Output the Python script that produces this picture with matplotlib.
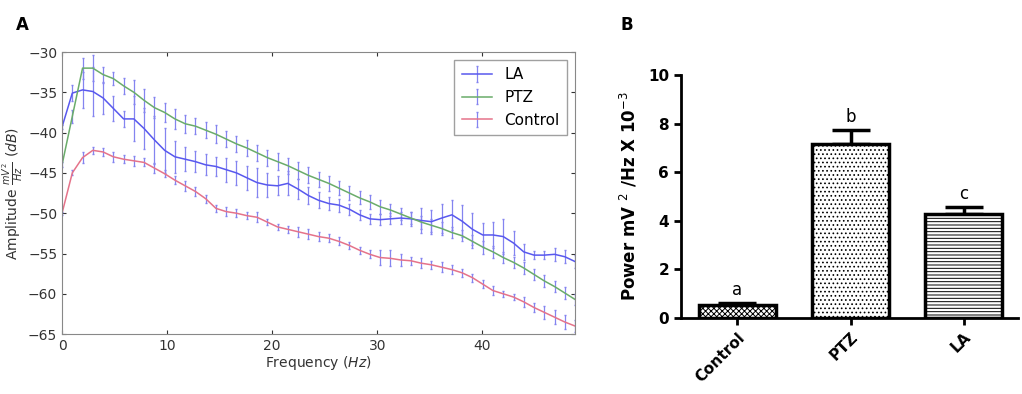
import numpy as np
import matplotlib
matplotlib.use("Agg")
import matplotlib.pyplot as plt

# ---- panel A data: spectra (dB), index k -> k * 1000/1024 Hz
freq_step = 1000 / 1024
la = [-39.3, -35.1, -34.7, -34.9, -35.7, -37.0, -38.3, -38.3, -39.5, -40.9,
      -42.2, -43.0, -43.3, -43.6, -44.0, -44.2, -44.6, -45.0, -45.6, -46.2,
      -46.5, -46.6, -46.3, -47.0, -47.8, -48.4, -48.8, -49.0, -49.5, -50.2,
      -50.7, -50.8, -50.7, -50.6, -50.7, -50.9, -51.05, -50.6, -50.2, -51.0,
      -52.0, -52.7, -52.7, -52.9, -53.7, -54.8, -55.2, -55.2, -55.1, -55.4,
      -56.0]
la_err = [0.3, 1.0, 2.2, 3.0, 2.0, 1.5, 1.0, 2.8, 2.5, 3.0,
          2.8, 2.0, 1.5, 1.3, 1.3, 1.2, 1.5, 1.5, 1.5, 1.8,
          1.5, 1.2, 1.5, 1.2, 1.0, 1.0, 0.8, 0.8, 0.7, 0.6,
          0.6, 0.7, 0.7, 0.8, 0.9, 1.5, 1.5, 1.8, 1.9, 2.0,
          2.0, 1.5, 1.6, 2.2, 1.5, 1.0, 0.5, 0.5, 0.8, 0.8,
          0.8]
ptz = [-44.0, -38.0, -32.0, -32.0, -32.8, -33.3, -34.2, -35.0, -36.0, -36.9,
       -37.5, -38.3, -38.9, -39.2, -39.7, -40.2, -40.8, -41.4, -41.9, -42.5,
       -43.1, -43.6, -44.1, -44.7, -45.3, -45.8, -46.3, -46.9, -47.5, -48.1,
       -48.6, -49.2, -49.6, -50.1, -50.6, -51.1, -51.5, -51.9, -52.4, -52.8,
       -53.5, -54.2, -54.8, -55.5, -56.1, -56.8, -57.6, -58.4, -59.1, -59.9,
       -60.7]
ptz_err = [0.3, 0.8, 1.3, 1.6, 1.0, 0.8, 1.0, 1.5, 1.4, 1.3,
           1.2, 1.2, 1.1, 1.0, 1.0, 1.1, 1.0, 1.0, 1.0, 1.0,
           1.0, 1.1, 1.0, 1.0, 1.0, 0.9, 0.9, 0.9, 0.9, 0.8,
           0.9, 0.9, 0.8, 0.8, 0.8, 0.8, 0.8, 0.8, 0.7, 0.7,
           0.8, 0.8, 0.7, 0.7, 0.7, 0.7, 0.7, 0.7, 0.7, 0.7,
           0.7]
control = [-50.0, -45.0, -43.1, -42.2, -42.4, -43.0, -43.3, -43.5, -43.7, -44.4,
           -45.1, -45.9, -46.6, -47.3, -48.2, -49.4, -49.8, -50.0, -50.3, -50.5,
           -51.1, -51.7, -52.0, -52.3, -52.6, -52.9, -53.1, -53.5, -54.0, -54.6,
           -55.1, -55.5, -55.6, -55.8, -55.9, -56.2, -56.4, -56.7, -57.0, -57.4,
           -58.0, -58.8, -59.6, -60.0, -60.4, -61.0, -61.7, -62.3, -62.9, -63.5,
           -64.0]
control_err = [0.2, 0.3, 0.7, 0.4, 0.5, 0.6, 0.5, 0.6, 0.5, 0.6,
               0.4, 0.5, 0.6, 0.6, 0.5, 0.4, 0.6, 0.5, 0.4, 0.6,
               0.4, 0.4, 0.4, 0.6, 0.6, 0.6, 0.5, 0.5, 0.4, 0.4,
               0.5, 0.9, 1.0, 0.7, 0.5, 0.6, 0.5, 0.6, 0.6, 0.5,
               0.5, 0.5, 0.6, 0.4, 0.4, 0.6, 0.6, 0.8, 0.9, 0.9,
               0.8]

# ---- panel B data
groups = ["Control", "PTZ", "LA"]
power = [0.53, 7.15, 4.27]
power_err = [0.08, 0.58, 0.30]
letters = ["a", "b", "c"]

freqs = np.arange(len(la)) * freq_step

fig = plt.figure(figsize=(10.22, 3.94), dpi=100)
plt.rcParams["hatch.linewidth"] = 0.7

# A
ax = fig.add_axes([0.0607, 0.152, 0.502, 0.716])
ecol = "#8484f0"
ax.errorbar(freqs, la, yerr=la_err, color="#5858ee", ecolor=ecol, lw=1.1,
            elinewidth=0.9, capsize=1, label="LA")
ax.errorbar(freqs, ptz, yerr=ptz_err, color="#6aac6a", ecolor=ecol, lw=1.1,
            elinewidth=0.9, capsize=1, label="PTZ")
ax.errorbar(freqs, control, yerr=control_err, color="#e5738a", ecolor=ecol, lw=1.1,
            elinewidth=0.9, capsize=1, label="Control")
ax.set_xlim(0, freqs[-1])
ax.set_ylim(-65, -30)
ax.set_xticks([0, 10, 20, 30, 40])
ax.set_yticks(range(-65, -29, 5))
ax.tick_params(direction="in", top=True, right=True, labelsize=10,
               colors="#333333", length=3)
for s in ax.spines.values():
    s.set_color("#888888")
ax.set_xlabel("Frequency $(Hz)$", fontsize=10, color="#333333", labelpad=1)
ax.set_ylabel(r"Amplitude $\frac{mV^2}{Hz}$ $(dB)$", fontsize=10,
              color="#333333", labelpad=2)
leg = ax.legend(loc="upper right", fontsize=11, frameon=True, fancybox=False,
                borderpad=0.5, handlelength=2.0)
leg.get_frame().set_edgecolor("#888888")
fig.text(0.016, 0.925, "A", fontsize=12, fontweight="bold")

# B
bx = fig.add_axes([0.6663, 0.193, 0.3297, 0.6168])
hatches = ["xxxxxx", "....", "-----"]
xpos = np.arange(len(groups))
bars = bx.bar(xpos, power, width=0.68, color="white", edgecolor="black",
              linewidth=2.5, zorder=2)
for b, h in zip(bars, hatches):
    b.set_hatch(h)
bx.errorbar(xpos, power, yerr=[np.zeros(3), power_err], fmt="none",
            ecolor="black", elinewidth=2.5, capsize=14, capthick=2.5, zorder=1)
for x, v, e, t in zip(xpos, power, power_err, letters):
    bx.text(x, v + e + 0.15, t, ha="center", va="bottom", fontsize=12)
bx.set_xlim(-0.5, 2.48)
bx.set_ylim(0, 10)
bx.set_yticks(range(0, 11, 2))
bx.set_xticks(xpos)
bx.set_xticklabels(groups, rotation=45, ha="right", rotation_mode="anchor",
                   fontweight="bold", fontsize=11)
for lab in bx.get_yticklabels():
    lab.set_fontweight("bold")
bx.tick_params(axis="y", labelsize=11, width=2, length=5)
bx.tick_params(axis="x", width=2, length=5)
bx.spines["top"].set_visible(False)
bx.spines["right"].set_visible(False)
bx.spines["left"].set_linewidth(2)
bx.spines["bottom"].set_linewidth(2)
bx.set_ylabel(r"Power mV $^{2}$ /Hz X 10$^{-3}$", fontsize=12, fontweight="bold",
              labelpad=6)
fig.text(0.607, 0.925, "B", fontsize=12, fontweight="bold")

fig.savefig("out.png", dpi=100)
